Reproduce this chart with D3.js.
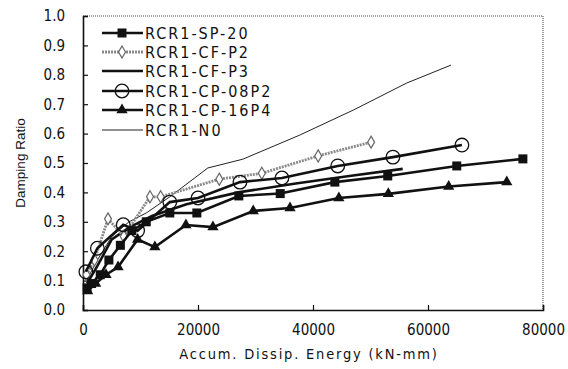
<!DOCTYPE html>
<html><head><meta charset="utf-8">
<script src="https://cdn.jsdelivr.net/npm/d3@7"></script>
<style>
body{margin:0;background:#fff;}
text{font-family:"Liberation Sans Narrow","DejaVu Sans Condensed","Liberation Sans",sans-serif;fill:#111;}
</style></head><body>
<svg id="c" width="568" height="369"></svg>
<script>
const xTicks = [0, 20000, 40000, 60000, 80000];
const yTicks = [0.0,0.1,0.2,0.3,0.4,0.5,0.6,0.7,0.8,0.9,1.0];
const seriesNames = ["RCR1-SP-20","RCR1-CF-P2","RCR1-CF-P3","RCR1-CP-08P2","RCR1-CP-16P4","RCR1-N0"];
const sp20 = [[700,0.075],[1500,0.09],[3000,0.12],[4500,0.17],[6500,0.22],[8500,0.27],[11000,0.30],[15100,0.33],[19800,0.33],[27100,0.388],[34300,0.396],[43800,0.435],[53000,0.456],[65000,0.49],[76500,0.514]];
const cfp2 = [[600,0.12],[2000,0.17],[4350,0.31],[7100,0.25],[11650,0.385],[13500,0.385],[23700,0.445],[31100,0.465],[40900,0.524],[50100,0.571]];
const cfp3 = [[700,0.09],[2500,0.15],[5000,0.24],[8000,0.28],[12000,0.32],[18000,0.36],[27000,0.40],[37000,0.43],[46000,0.455],[55600,0.48]];
const cp08 = [[500,0.13],[2500,0.21],[7000,0.29],[9500,0.27],[15100,0.367],[20000,0.381],[27300,0.435],[34600,0.449],[44300,0.49],[53900,0.52],[65900,0.561]];
const cp16 = [[800,0.065],[2200,0.09],[4000,0.12],[6100,0.146],[9500,0.24],[12500,0.214],[17900,0.289],[22600,0.282],[29600,0.337],[36000,0.347],[44500,0.381],[53100,0.395],[63600,0.42],[73700,0.435]];
const n0 = [[600,0.10],[2500,0.17],[5000,0.25],[8000,0.30],[11000,0.33],[15100,0.385],[21700,0.483],[27800,0.513],[37700,0.595],[47000,0.68],[56300,0.772],[64000,0.833]];

const svg = d3.select("#c");
const x = d3.scaleLinear().domain([0,80000]).range([83,543]);
const y = d3.scaleLinear().domain([0,1]).range([310,16]);

// frame
svg.append("line").attr("x1",83).attr("x2",543).attr("y1",16).attr("y2",16).attr("stroke","#444").attr("stroke-width",1).attr("stroke-dasharray","1,1");
svg.append("line").attr("x1",543).attr("x2",543).attr("y1",16).attr("y2",310).attr("stroke","#444").attr("stroke-width",1).attr("stroke-dasharray","1,1");

const fmtY = d3.format(".1f");
const ya = svg.append("g").attr("transform","translate(83,0)")
  .call(d3.axisLeft(y).tickValues(yTicks).tickFormat(fmtY).tickSize(-5).tickPadding(18));
const xa = svg.append("g").attr("transform","translate(0,310)")
  .call(d3.axisBottom(x).tickValues(xTicks).tickFormat(d3.format("d")).tickSize(-5).tickPadding(14));
[ya,xa].forEach(a=>{
  a.select(".domain").attr("stroke","#111").attr("stroke-width",1.6);
  a.selectAll(".tick line").attr("stroke","#111").attr("stroke-width",1.2);
  a.selectAll(".tick text").style("font-size","15px").style("font-family",'"Liberation Sans Narrow","DejaVu Sans Condensed",sans-serif').attr("fill","#111");
});
xa.selectAll(".tick text").attr("dy","0.75em");

svg.append("text").attr("transform","translate(25,163) rotate(-90)").attr("text-anchor","middle")
  .style("font-size","13.5px").style("font-family","Liberation Sans, Arial, sans-serif").text("Damping Ratio");
svg.append("text").attr("x",309).attr("y",359).attr("text-anchor","middle")
  .style("font-size","14.5px").style("letter-spacing","1.8px").text("Accum. Dissip. Energy (kN-mm)");

const line = d3.line().x(d=>x(d[0])).y(d=>y(d[1]));
const styles = [
  {data:sp20, color:"#111", w:2.6, dash:null, marker:"square"},
  {data:cfp2, color:"#8a8a8a", w:2.8, dash:"2,1", marker:"diamond"},
  {data:cfp3, color:"#111", w:2.6, dash:null, marker:null},
  {data:cp08, color:"#111", w:2.6, dash:null, marker:"circle"},
  {data:cp16, color:"#111", w:2.6, dash:null, marker:"triangle"},
  {data:n0, color:"#222", w:1, dash:null, marker:null}
];
function drawMarker(g, type, cx, cy, color){
  if(type==="square") g.append("rect").attr("x",cx-4.5).attr("y",cy-4.5).attr("width",9).attr("height",9).attr("fill","#111");
  else if(type==="diamond") g.append("path").attr("d",d3.symbol(d3.symbolDiamond,42)()).attr("transform",`translate(${cx},${cy})`).attr("fill","#fff").attr("stroke","#666").attr("stroke-width",1.2);
  else if(type==="circle") g.append("circle").attr("cx",cx).attr("cy",cy).attr("r",6.8).attr("fill","none").attr("stroke","#111").attr("stroke-width",1.3);
  else if(type==="triangle") g.append("path").attr("d",d3.symbol(d3.symbolTriangle,55)()).attr("transform",`translate(${cx},${cy})`).attr("fill","#111");
}
const order = [5,2,1,3,0,4];
order.forEach(i=>{
  const s = styles[i];
  const g = svg.append("g");
  g.append("path").attr("d",line(s.data)).attr("fill","none").attr("stroke",s.color).attr("stroke-width",s.w).attr("stroke-dasharray",s.dash);
  if(s.marker) s.data.forEach(d=>drawMarker(g,s.marker,x(d[0]),y(d[1]),s.color));
});

// legend
const legY = [33,52,71,91,110,130];
seriesNames.forEach((n,i)=>{
  const s = styles[i];
  const g = svg.append("g");
  g.append("line").attr("x1",102).attr("x2",143).attr("y1",legY[i]).attr("y2",legY[i]).attr("stroke",s.color).attr("stroke-width",s.w).attr("stroke-dasharray",s.dash);
  if(s.marker) drawMarker(g,s.marker,122,legY[i],s.color);
  g.append("text").attr("x",145).attr("y",legY[i]+6).style("font-size","16px").style("letter-spacing","2px").text(n);
});
</script></body></html>
